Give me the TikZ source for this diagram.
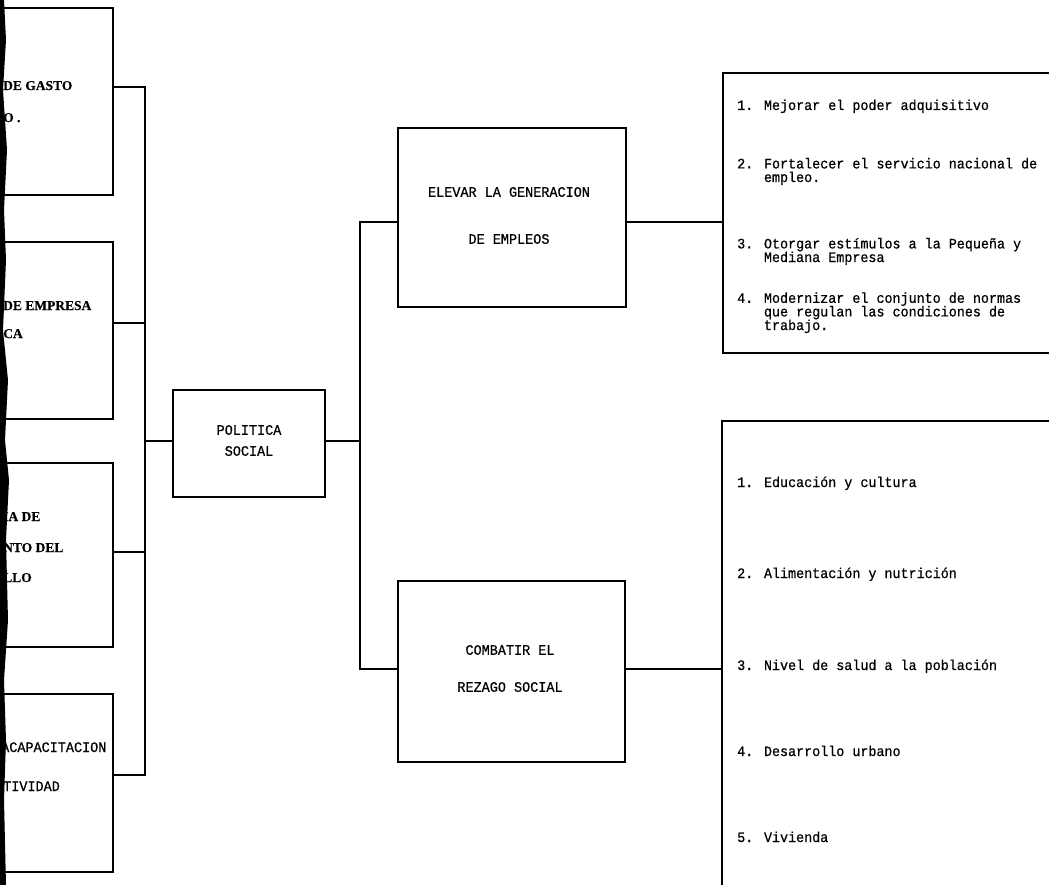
\documentclass[tikz,border=0pt]{standalone}
\usepackage{fontspec}
\newfontfamily\mono[FakeBold=0.6,FakeStretch=0.93]{Liberation Mono}
\newfontfamily\lser[FakeBold=0.4]{Liberation Serif}
\begin{document}
\begin{tikzpicture}[x=1pt,y=-1pt,
  box/.style={draw, line width=1.6pt, inner sep=0pt},
  conn/.style={line width=1.4pt},
  itm/.style={anchor=base west, inner sep=0pt, align=left, font=\mono\fontsize{14.4}{13.6}\selectfont},
  ctext/.style={align=center, inner sep=0pt},
  ltext/.style={anchor=base west, inner sep=0pt, font=\lser\bfseries\fontsize{13.5}{13.5}\selectfont}]
\useasboundingbox (0,0) rectangle (1049,885);
\clip (0,0) rectangle (1049,885);
\fill[white] (0,0) rectangle (1049,885);

% left (cut) boxes
\node[box, minimum width=133pt, minimum height=187pt] (L1) at (46.5,101.5) {};
\node[box, minimum width=133pt, minimum height=177pt] (L2) at (46.5,330.5) {};
\node[box, minimum width=133pt, minimum height=184pt] (L3) at (46.5,555) {};
\node[box, minimum width=133pt, minimum height=178pt] (L4) at (46.5,783) {};

\node[ltext] (t1a) at (3,90) {DE GASTO};
\node[ltext] (t1b) at (3,122) {O .};
\node[ltext] (t2a) at (3,310) {DE EMPRESA};
\node[ltext] (t2b) at (3,338) {CA};
\node[ltext] (t3a) at (3,521) {IA DE};
\node[ltext] (t3b) at (3,552) {NTO DEL};
\node[ltext] (t3c) at (3,582) {LLO};
\node[ltext, font=\mono\fontsize{14.5}{14.5}\selectfont] (t4a) at (1,752) {ACAPACITACION};
\node[ltext, font=\mono\fontsize{14.5}{14.5}\selectfont] (t4b) at (3,791) {TIVIDAD};

% central boxes
\node[box, minimum width=152pt, minimum height=107pt] (PS) at (249,443.5) {};
\node[ctext, font=\mono\fontsize{14.5}{21}\selectfont] (PSt) at (249,440.5) {POLITICA\\SOCIAL};
\node[box, minimum width=228pt, minimum height=179pt] (EE) at (512,217.5) {};
\node[ctext, font=\mono\fontsize{14.5}{47}\selectfont] (EEt) at (509,215.5) {ELEVAR LA GENERACION\\DE EMPLEOS};
\node[box, minimum width=227pt, minimum height=181pt] (CR) at (511.5,671.5) {};
\node[ctext, font=\mono\fontsize{14.5}{37}\selectfont] (CRt) at (510,668.5) {COMBATIR EL\\REZAGO SOCIAL};

% right boxes
\node[box, minimum width=347pt, minimum height=280pt] (R1) at (896.5,213) {};
\node[box, minimum width=348pt, minimum height=479pt] (R2) at (896,660.5) {};

\node[itm] (r1a) at (737,110) {1. Mejorar el poder adquisitivo};
\node[itm] (r1b) at (737,182) {2. Fortalecer el servicio nacional de\\\hphantom{2. }empleo.};
\node[itm] (r1c) at (737,262) {3. Otorgar estímulos a la Pequeña y\\\hphantom{3. }Mediana Empresa};
\node[itm] (r1d) at (737,330) {4. Modernizar el conjunto de normas\\\hphantom{4. }que regulan las condiciones de\\\hphantom{4. }trabajo.};

\node[itm] (r2a) at (737,487) {1. Educación y cultura};
\node[itm] (r2b) at (737,578) {2. Alimentación y nutrición};
\node[itm] (r2c) at (737,670) {3. Nivel de salud a la población};
\node[itm] (r2d) at (737,756) {4. Desarrollo urbano};
\node[itm] (r2e) at (737,842) {5. Vivienda};

% connectors
\coordinate (bt) at (145,87);
\coordinate (b2) at (145,323);
\coordinate (b3) at (145,552);
\coordinate (bb) at (145,775);
\coordinate (bm) at (145,441);
\coordinate (ct) at (360,222);
\coordinate (cm) at (360,441);
\coordinate (cb) at (360,669);

\draw[conn] (bt -| L1.east) -- (bt) -- (bb) -- (bb -| L4.east);
\draw[conn] (b2 -| L2.east) -- (b2);
\draw[conn] (b3 -| L3.east) -- (b3);
\draw[conn] (bm) -- (bm -| PS.west);
\draw[conn] (PS.east |- cm) -- (cm);
\draw[conn] (EE.west |- ct) -- (ct) -- (cb) -- (CR.west |- cb);
\draw[conn] (EE.east |- ct) -- (R1.west |- ct);
\draw[conn] (CR.east |- cb) -- (R2.west |- cb);

% scanned left margin edge
\fill[black] (0,0) -- (4,0) -- (6,40) -- (3,90) -- (7,150) -- (4,210) -- (6,260) -- (3,330) -- (8,380) -- (5,440) -- (9,480) -- (6,540) -- (8,620) -- (4,680) -- (6,740) -- (4,800) -- (6,885) -- (0,885) -- cycle;
\end{tikzpicture}
\end{document}
